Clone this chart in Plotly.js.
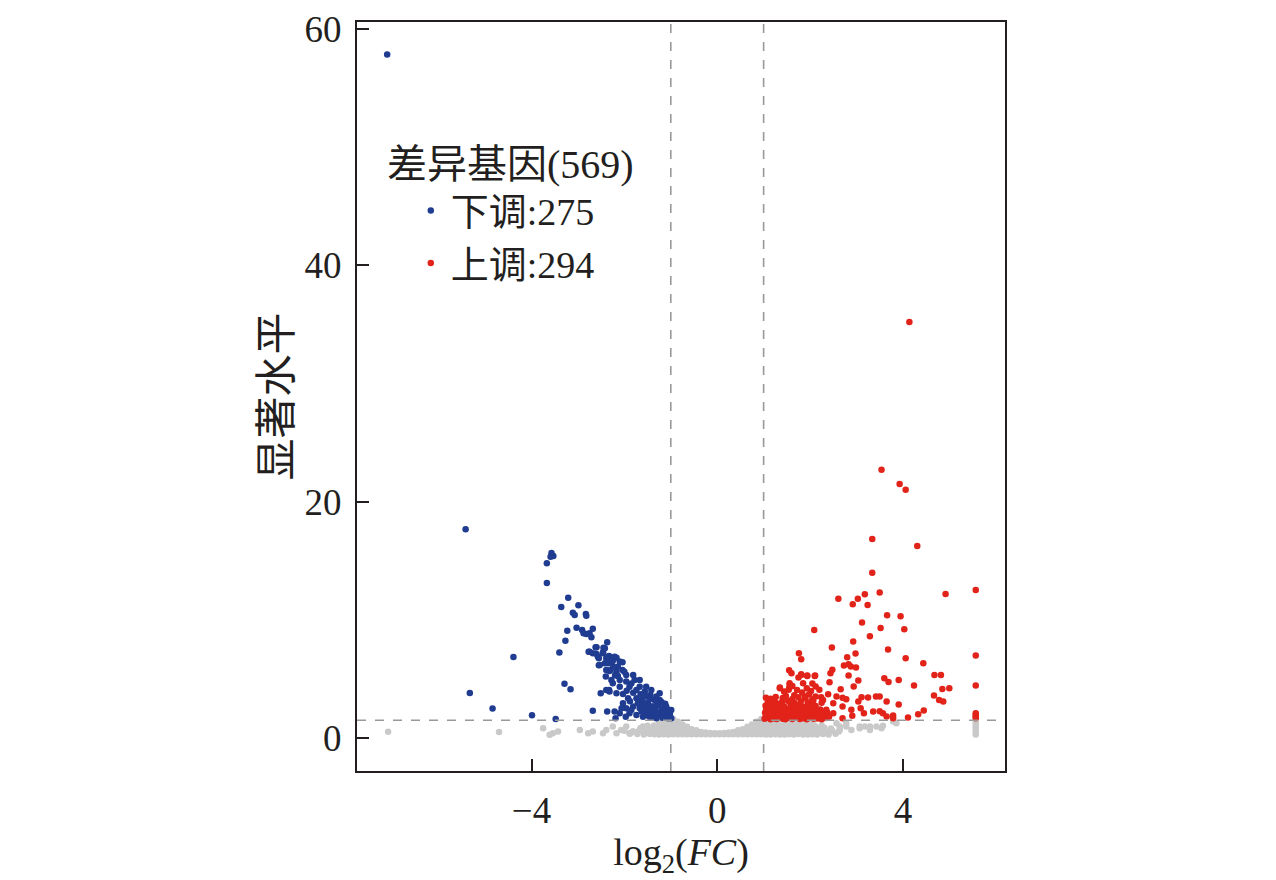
<!DOCTYPE html>
<html>
<head>
<meta charset="utf-8">
<script src="https://cdn.plot.ly/plotly-3.0.1.min.js"></script>
<style>
  html, body { margin: 0; padding: 0; background: #fff; }
  #chart { width: 1276px; height: 880px; }
</style>
</head>
<body>
<div id="chart"></div>
<script>
// thresholds drawn as dashed guide lines
const fcCut = 1;
const pCut = 1.5;

// legend text
const legendTitle = "差异基因(569)";
const downName = "下调:275";
const upName = "上调:294";

// down-regulated genes [log2FC, significance]
const downPts = [
  [-7.11,57.84],[-5.42,17.66],[-3.57,15.65],[-3.53,15.40],[-3.59,15.34],[-3.67,14.78],[-3.67,13.11],
  [-3.21,11.87],[-3.36,11.08],[-2.99,11.22],[-3.11,10.60],[-3.07,10.40],[-2.83,10.50],[-2.82,10.35],
  [-3.23,9.08],[-3.03,9.33],[-2.91,9.14],[-2.88,8.86],[-2.82,8.80],[-2.75,8.86],[-2.68,9.25],[-2.71,8.52],
  [-3.27,8.23],[-3.40,7.22],[-4.39,6.85],[-2.77,7.30],[-2.62,7.67],[-2.60,7.11],[-2.57,6.88],[-2.46,7.17],
  [-2.37,8.10],[-2.42,7.59],[-2.55,6.15],[-2.42,6.32],[-2.33,6.88],[-2.25,6.51],[-2.17,6.79],[-2.04,6.40],
  [-2.14,6.03],[-2.30,5.75],[-2.39,5.75],[-3.29,4.59],[-3.16,4.12],[-5.33,3.81],[-4.84,2.48],[-3.99,1.92],
  [-3.48,1.61],[-2.68,2.31],[-2.37,2.23],[-2.19,1.67],[-2.51,3.78],[-2.39,4.06],[-2.32,3.92],
  [-2.53,6.17],[-2.35,6.32],[-2.24,6.03],[-2.10,6.46],[-2.04,5.75],[-2.17,5.61],[-2.32,5.67],[-2.40,5.19],
  [-2.28,4.91],[-2.10,4.91],[-1.96,5.33],[-1.81,5.33],[-1.78,4.91],[-1.89,4.34],[-2.10,4.34],[-2.25,4.62],
  [-2.33,4.06],[-2.17,3.78],[-2.03,3.72],[-1.81,3.83],[-1.67,4.34],[-1.56,3.92],[-1.74,3.35],[-1.63,3.21],
  [-1.53,3.50],[-1.44,3.64],[-1.35,3.21],[-1.42,2.65],[-1.27,2.79],[-1.17,2.51],[-1.10,2.23],[-1.02,2.09],
  [-1.24,2.09],[-1.38,2.09],[-1.53,2.37],[-1.67,2.51],[-1.81,2.65],[-1.96,2.51],[-2.10,2.09],[-1.89,2.09],
  [-1.74,1.94],[-1.60,1.80],[-1.46,1.80],[-1.31,1.66],[-1.17,1.80],[-1.06,1.66],[-0.99,1.66],
  [-1.24,3.21],[-1.31,3.50],[-1.60,2.65],[-1.49,2.93],[-1.38,2.65],[-1.20,2.37],[-1.10,2.65],[-0.99,2.37],
  [-1.74,4.06],[-1.92,3.35],[-2.03,2.93],[-1.67,4.91],[-1.96,4.77],[-2.14,5.25],[-2.21,6.88],[-2.33,6.94],
  [-2.46,7.25],[-2.45,7.64],[-2.60,7.67],[-2.55,6.74],[-2.75,7.30],[-2.68,7.16],[-2.39,6.74],[-2.28,6.46],
  [-1.10,1.94],[-1.46,2.23],[-1.63,2.23],[-1.85,2.37],[-1.97,1.80],[-2.06,2.51],[-2.21,2.23],[-1.42,4.06],
  [-1.53,4.34],[-1.71,2.93],[-1.24,3.78],[-1.05,2.00],[-1.15,2.15],[-1.28,1.95],[-1.40,1.70],[-1.52,1.95],
  [-1.12,2.90],[-1.20,3.05],[-1.33,2.40],[-1.50,2.60],[-1.58,3.00],[-1.88,3.10],[-1.95,4.00],[-1.85,4.60],
  [-2.00,5.60],[-2.20,5.30],[-1.65,3.70],[-1.45,3.30],[-1.30,2.95],[-1.02,1.85],[-1.08,2.45],[-1.18,1.70]
];

// up-regulated genes [log2FC, significance]
const upPts = [
  [4.14,35.2],[3.54,22.7],[4.06,21.0],[3.93,21.5],[3.34,16.84],[4.31,16.25],[3.34,13.99],[2.61,11.79],
  [2.92,11.31],[3.03,11.79],[3.18,12.16],[3.24,11.26],[3.50,12.30],[4.92,12.19],[5.57,12.53],[2.09,9.14],
  [3.12,9.76],[3.66,10.38],[3.95,10.30],[3.52,9.31],[4.03,9.20],[3.29,8.61],[2.93,8.16],[2.47,7.65],
  [3.68,7.48],[1.76,7.17],[1.81,6.66],[2.98,7.14],[2.80,6.83],[5.57,6.97],[4.06,6.75],[4.44,6.32],
  [2.73,6.12],[2.83,6.24],[2.88,6.04],[2.99,5.96],[2.83,5.28],[3.04,4.86],[1.55,5.73],[1.60,5.48],
  [1.81,5.39],[1.94,5.28],[2.11,5.28],[2.44,5.48],[2.48,5.76],[2.42,4.71],[3.60,5.05],[3.69,4.74],
  [3.91,4.91],[4.68,5.33],[4.82,5.33],[4.24,4.43],[4.85,4.15],[5.00,4.21],[5.57,4.43],[4.67,3.59],
  [4.78,3.22],[4.87,3.08],[2.66,4.12],[2.94,4.35],[3.11,3.45],[3.25,3.42],[3.42,3.50],[3.50,3.50],
  [3.65,3.08],[3.91,2.83],[3.04,3.08],[2.78,3.28],[2.70,3.39],[2.57,3.50],[2.39,3.70],[2.28,3.22],
  [2.20,4.07],[2.12,4.35],[2.02,3.98],[1.93,4.21],[1.85,4.63],[1.75,5.11],[1.56,4.63],[1.44,3.92],
  [1.35,4.21],[1.54,4.07],[1.89,3.50],[2.12,3.50],[2.50,2.94],[2.70,2.66],[2.89,2.38],[3.09,2.52],
  [3.16,2.09],[3.36,2.23],[3.50,2.26],[3.57,2.09],[3.79,1.89],[4.11,1.73],[4.33,2.01],[4.45,2.32],
  [5.57,2.09],[5.57,1.95],[5.57,1.81],[5.57,1.67],[3.79,1.67],[3.65,1.81],[2.70,1.67],[2.91,1.87],
  [2.50,2.09],[2.35,2.38],[1.35,4.26],[1.56,4.49],[1.55,4.20],[1.81,5.33],[1.94,5.25],[2.10,5.25],
  [1.62,4.40],[1.72,4.05],[1.83,3.85],[1.98,3.70],[2.05,4.60],[1.48,3.55],[1.66,3.62],[2.24,3.45],
  [1.02,1.62],[1.08,1.70],[1.15,1.58],[1.21,1.66],[1.28,1.60],[1.34,1.72],[1.41,1.63],[1.47,1.58],
  [1.55,1.68],[1.62,1.61],[1.70,1.74],[1.78,1.60],[1.85,1.66],[1.93,1.59],[2.00,1.70],[2.08,1.62],
  [2.16,1.65],[2.25,1.58],[2.33,1.68],[1.05,1.88],[1.12,1.95],[1.18,1.82],[1.26,1.90],[1.31,1.84],
  [1.39,1.97],[1.44,1.86],[1.52,1.92],[1.60,1.83],[1.66,1.96],[1.74,1.87],[1.81,1.92],[1.89,1.84],
  [1.97,1.95],[2.05,1.86],[2.12,1.90],[2.21,1.82],[2.30,1.94],[2.41,1.80],[1.03,2.14],[1.10,2.22],
  [1.17,2.08],[1.24,2.18],[1.33,2.10],[1.40,2.25],[1.49,2.12],[1.57,2.20],[1.65,2.07],[1.72,2.16],
  [1.79,2.24],[1.88,2.10],[1.95,2.18],[2.03,2.06],[2.14,2.20],[2.26,2.12],[2.37,2.15],[1.06,2.42],
  [1.14,2.50],[1.22,2.38],[1.30,2.46],[1.37,2.36],[1.46,2.52],[1.55,2.40],[1.63,2.48],[1.70,2.35],
  [1.83,2.44],[1.92,2.50],[2.01,2.38],[2.10,2.46],[2.22,2.40],[1.04,2.72],[1.12,2.80],[1.20,2.68],
  [1.35,2.76],[1.44,2.66],[1.58,2.82],[1.68,2.70],[1.77,2.78],[1.86,2.64],[2.00,2.76],[2.12,2.70],
  [1.09,3.02],[1.18,3.10],[1.27,2.96],[1.40,3.06],[1.53,3.12],[1.66,2.98],[1.80,3.08],[1.95,3.00],
  [2.07,3.14],[2.25,2.98],[1.05,3.40],[1.15,3.32],[1.26,3.46],[1.41,3.38],[1.62,3.30],[1.75,3.44],
  [1.90,3.36],[2.05,3.28]
];

// non-significant genes [log2FC, significance]
const nsPts = [
  // centre band between the fold-change cut lines
  [-0.95,0.32],[-0.95,0.55],[-0.95,0.78],[-0.95,1.00],[-0.95,1.22],[-0.95,1.42],[-0.95,1.60],
  [-0.85,0.32],[-0.85,0.55],[-0.85,0.78],[-0.85,1.00],[-0.85,1.20],[-0.85,1.36],
  [-0.75,0.32],[-0.75,0.55],[-0.75,0.78],[-0.75,0.98],[-0.75,1.14],
  [-0.65,0.32],[-0.65,0.55],[-0.65,0.76],[-0.65,0.94],
  [-0.55,0.32],[-0.55,0.54],[-0.55,0.74],
  [-0.45,0.32],[-0.45,0.52],[-0.45,0.64],
  [-0.35,0.32],[-0.35,0.50],[-0.25,0.32],[-0.25,0.46],[-0.15,0.32],[-0.15,0.42],[-0.05,0.32],[-0.05,0.40],
  [0.05,0.32],[0.05,0.40],[0.15,0.32],[0.15,0.42],[0.25,0.32],[0.25,0.46],[0.35,0.32],[0.35,0.50],
  [0.45,0.32],[0.45,0.52],[0.45,0.64],
  [0.55,0.32],[0.55,0.54],[0.55,0.74],
  [0.65,0.32],[0.65,0.55],[0.65,0.76],[0.65,0.94],
  [0.75,0.32],[0.75,0.55],[0.75,0.78],[0.75,0.98],[0.75,1.14],
  [0.85,0.32],[0.85,0.55],[0.85,0.78],[0.85,1.00],[0.85,1.20],[0.85,1.36],
  [0.95,0.32],[0.95,0.55],[0.95,0.78],[0.95,1.00],[0.95,1.22],[0.95,1.42],[0.95,1.60],
  // right band
  [1.05,0.30],[1.15,0.28],[1.25,0.32],[1.35,0.30],[1.45,0.28],[1.55,0.31],[1.65,0.29],[1.75,0.33],
  [1.85,0.30],[1.95,0.28],[2.05,0.32],[2.15,0.30],[2.28,0.34],[2.40,0.30],[2.55,0.36],
  [1.02,0.55],[1.12,0.52],[1.22,0.56],[1.32,0.50],[1.42,0.55],[1.52,0.53],[1.62,0.57],[1.72,0.52],
  [1.82,0.55],[1.92,0.50],[2.02,0.56],[2.12,0.54],[2.22,0.58],[2.35,0.52],[2.48,0.60],[2.62,0.55],
  [1.07,0.80],[1.17,0.78],[1.27,0.82],[1.37,0.77],[1.47,0.81],[1.57,0.79],[1.67,0.83],[1.77,0.78],
  [1.87,0.80],[1.97,0.84],[2.07,0.79],[2.19,0.82],[2.31,0.86],[2.45,0.80],
  [1.04,1.05],[1.14,1.02],[1.24,1.06],[1.34,1.01],[1.44,1.05],[1.54,1.03],[1.64,1.07],[1.74,1.02],
  [1.84,1.06],[1.96,1.00],[2.10,1.04],[2.25,1.08],
  [1.00,1.30],[1.10,1.28],[1.20,1.32],[1.30,1.26],[1.45,1.30],[1.60,1.27],[1.75,1.31],[1.90,1.25],[2.05,1.29],
  [2.78,0.96],[2.89,0.68],[3.07,0.82],[3.18,0.96],[3.29,0.68],[3.43,0.96],[3.54,0.82],[3.79,1.39],
  [3.86,1.25],[2.64,0.68],[2.57,1.25],[2.64,0.96],[2.78,1.24],[3.07,0.96],[3.29,0.96],[3.57,1.02],
  [5.57,0.30],[5.57,0.50],[5.57,0.70],[5.57,0.90],[5.57,1.10],[5.57,1.30],
  // left band
  [-1.05,0.30],[-1.15,0.32],[-1.25,0.28],[-1.35,0.31],[-1.45,0.34],[-1.58,0.30],[-1.72,0.33],[-1.88,0.36],
  [-1.02,0.55],[-1.12,0.52],[-1.22,0.57],[-1.32,0.53],[-1.42,0.56],[-1.55,0.52],[-1.68,0.58],[-1.82,0.54],[-2.00,0.60],
  [-1.07,0.80],[-1.17,0.82],[-1.27,0.78],[-1.37,0.83],[-1.50,0.80],[-1.65,0.85],
  [-1.04,1.05],[-1.14,1.08],[-1.24,1.02],[-1.36,1.06],[-1.50,1.04],
  [-1.02,1.32],[-1.12,1.28],[-1.25,1.30],
  [-7.09,0.53],[-4.70,0.51],[-3.75,0.82],[-3.61,0.26],[-3.54,0.40],[-3.43,0.54],[-2.96,0.68],
  [-2.78,0.40],[-2.68,0.54],[-2.46,0.40],[-2.39,0.68],[-2.25,0.96],[-2.17,0.40],[-2.07,0.68],
  [-1.96,0.96],[-1.89,0.40],[-1.81,0.54],[-1.67,0.68],[-1.60,0.96],[-1.46,0.40],[-1.31,0.68],
  [-1.24,0.96],[-1.14,0.54],[-1.02,0.68]
];

const serif = "'Liberation Serif', 'Times New Roman', 'Noto Sans CJK SC', serif";
const ink = "#231f20";

function scatter(pts, color, name, show, group) {
  return {
    type: "scatter",
    mode: "markers",
    x: pts.map(p => p[0]),
    y: pts.map(p => p[1]),
    name: name,
    showlegend: show,
    legendgroup: group,
    marker: {color: color, size: 6.5, line: {width: 0}},
    hoverinfo: "x+y"
  };
}

const traces = [
  scatter(nsPts, "#c9c9c9", "ns", false, "ns"),
  scatter(downPts, "#1f3c91", downName, true, "down"),
  scatter(upPts, "#e2231a", upName, true, "up")
];

const guide = {color: "#999999", width: 1.6, dash: "dash"};

const layout = {
  width: 1276,
  height: 880,
  margin: {l: 357, r: 271, t: 22, b: 109},
  paper_bgcolor: "#ffffff",
  plot_bgcolor: "#ffffff",
  font: {family: serif, color: ink, size: 36},
  showlegend: true,
  xaxis: {
    range: [-7.76, 6.2],
    tickvals: [-4, 0, 4],
    ticks: "inside",
    ticklen: 12,
    tickwidth: 2,
    tickcolor: ink,
    showline: true,
    linewidth: 2,
    linecolor: ink,
    mirror: true,
    showgrid: false,
    zeroline: false,
    ticklabelstandoff: 6,
    tickfont: {family: serif, size: 37, color: ink},
    title: {text: "log<sub>2</sub>(<i>FC</i>)", font: {family: serif, size: 38, color: ink}, standoff: 4}
  },
  yaxis: {
    range: [-2.8, 60.6],
    tickvals: [0, 20, 40, 60],
    ticks: "inside",
    ticklen: 12,
    tickwidth: 2,
    tickcolor: ink,
    showline: true,
    linewidth: 2,
    linecolor: ink,
    mirror: true,
    showgrid: false,
    zeroline: false,
    ticklabelstandoff: 6,
    tickfont: {family: serif, size: 37, color: ink},
    title: {text: "显著水平", font: {family: serif, size: 42, color: ink}, standoff: 0}
  },
  shapes: [
    {type: "line", xref: "x", yref: "paper", x0: -fcCut, x1: -fcCut, y0: 0, y1: 1, line: guide, layer: "below"},
    {type: "line", xref: "x", yref: "paper", x0: fcCut, x1: fcCut, y0: 0, y1: 1, line: guide, layer: "below"},
    {type: "line", xref: "paper", yref: "y", x0: 0, x1: 1, y0: pCut, y1: pCut, line: guide, layer: "above"}
  ],
  annotations: [{
    text: legendTitle,
    xref: "paper", yref: "paper",
    x: 0.043, y: 0.81,
    xanchor: "left", yanchor: "middle",
    showarrow: false,
    font: {family: serif, size: 40, color: ink}
  }],
  legend: {
    x: 0.083, y: 0.79,
    xanchor: "left", yanchor: "top",
    bgcolor: "rgba(0,0,0,0)",
    borderwidth: 0,
    itemsizing: "trace",
    itemwidth: 30,
    traceorder: "grouped",
    tracegroupgap: 0,
    font: {family: serif, size: 38, color: ink}
  }
};

Plotly.newPlot("chart", traces, layout, {displayModeBar: false, staticPlot: true});
</script>
</body>
</html>
